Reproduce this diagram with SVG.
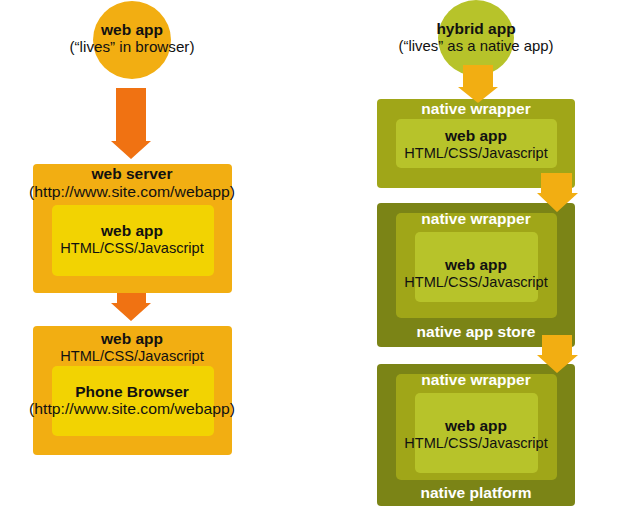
<svg xmlns="http://www.w3.org/2000/svg" width="617" height="514" viewBox="0 0 617 514">
<style>
text{font-family:"Liberation Sans",Arial,sans-serif;text-anchor:middle;fill:#111}
.b{font-weight:bold;font-size:15.5px}
.r{font-size:14.6px}
.w{fill:#fff;font-weight:bold;font-size:15.5px}
.orange{fill:#f2ae12}
.yellow{fill:#f2d302}
.olive{fill:#7b8416}
.wrap{fill:#a0a618}
.lime{fill:#b7c32a}
.arrO{fill:#f07212}
.arrA{fill:#f2ae12}
</style>
<rect width="617" height="514" fill="#fff"/>
<g id="webapp-circle">
<circle cx="132" cy="40" r="39" class="orange"/>
<text x="132" y="35" class="b">web app</text>
<text x="132" y="52" class="r" textLength="125" lengthAdjust="spacingAndGlyphs">(“lives” in browser)</text>
</g>
<g id="web-server">
<rect x="33" y="164" width="199" height="129" rx="4" class="orange"/>
<text x="132" y="179" class="b">web server</text>
<text x="132" y="197" class="r" textLength="206" lengthAdjust="spacingAndGlyphs">(http://www.site.com/webapp)</text>
<rect x="52" y="205" width="162" height="71" rx="5" class="yellow"/>
<text x="132" y="236" class="b">web app</text>
<text x="132" y="253" class="r">HTML/CSS/Javascript</text>
</g>
<g id="phone-browser">
<rect x="33" y="326" width="199" height="129" rx="4" class="orange"/>
<text x="132" y="344" class="b">web app</text>
<text x="132" y="361" class="r">HTML/CSS/Javascript</text>
<rect x="52" y="366" width="162" height="70" rx="5" class="yellow"/>
<text x="132" y="397" class="b">Phone Browser</text>
<text x="132" y="414" class="r" textLength="206" lengthAdjust="spacingAndGlyphs">(http://www.site.com/webapp)</text>
</g>
<g id="hybrid-circle">
<circle cx="476" cy="38" r="38" class="lime"/>
<text x="476" y="34" class="b">hybrid app</text>
<text x="476" y="51" class="r" textLength="155" lengthAdjust="spacingAndGlyphs">(“lives” as a native app)</text>
</g>
<g id="native-wrapper-1">
<rect x="377" y="99" width="198" height="89" rx="4" class="wrap"/>
<text x="476" y="114" class="w">native wrapper</text>
<rect x="396" y="119" width="161" height="49" rx="5" class="lime"/>
<text x="476" y="141" class="b">web app</text>
<text x="476" y="158" class="r">HTML/CSS/Javascript</text>
</g>
<g id="native-app-store">
<rect x="377" y="203" width="198" height="144" rx="4" class="olive"/>
<rect x="396" y="213" width="161" height="105" rx="5" class="wrap"/>
<text x="476" y="224" class="w">native wrapper</text>
<rect x="415" y="232" width="123" height="70" rx="5" class="lime"/>
<text x="476" y="270" class="b">web app</text>
<text x="476" y="287" class="r">HTML/CSS/Javascript</text>
<text x="476" y="337" class="w">native app store</text>
</g>
<g id="native-platform">
<rect x="377" y="364" width="198" height="142" rx="4" class="olive"/>
<rect x="396" y="374" width="161" height="106" rx="5" class="wrap"/>
<text x="476" y="385" class="w">native wrapper</text>
<rect x="415" y="393" width="123" height="80" rx="5" class="lime"/>
<text x="476" y="431" class="b">web app</text>
<text x="476" y="448" class="r">HTML/CSS/Javascript</text>
<text x="476" y="498" class="w">native platform</text>
</g>
<g id="connectors">
<polygon class="arrO" points="116,88 146,88 146,141 151,141 131,159 111,141 116,141"/>
<polygon class="arrO" points="117,293 146,293 146,303 151,303 131,321 111,303 117,303"/>
<polygon class="arrA" points="463,65 493,65 493,87 498,87 478,103 458,87 463,87"/>
<polygon class="arrA" points="541,173 572,173 572,193 578,193 557,212 537,193 541,193"/>
<polygon class="arrA" points="542,335 572,335 572,355 578,355 557,373 537,355 542,355"/>
</g>
</svg>
